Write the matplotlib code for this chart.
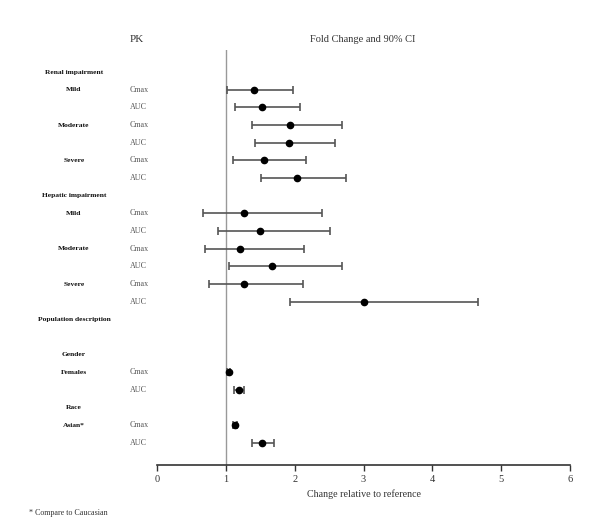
import numpy as np
import matplotlib
matplotlib.use("Agg")
import matplotlib.pyplot as plt
import matplotlib.transforms as mtransforms

plt.rcParams['font.family'] = ['Liberation Serif', 'DejaVu Serif']

# row labels, top to bottom
group_labels = ["Renal impairment", "Mild", "", "Moderate", "", "Severe", "",
                "Hepatic impairment", "Mild", "", "Moderate", "", "Severe", "",
                "Population description", "", "Gender", "Females", "", "Race", "Asian*", ""]
param_labels = ["", "Cmax", "AUC", "Cmax", "AUC", "Cmax", "AUC",
                "", "Cmax", "AUC", "Cmax", "AUC", "Cmax", "AUC",
                "", "", "", "Cmax", "AUC", "", "Cmax", "AUC"]

# fold change and 90% CI for rows with a PK parameter
fold = [1.41, 1.53, 1.93, 1.92, 1.55, 2.03,
        1.27, 1.50, 1.21, 1.67, 1.26, 3.00,
        1.04, 1.19, 1.14, 1.53]
ci_low = [1.01, 1.14, 1.38, 1.42, 1.11, 1.51,
          0.67, 0.89, 0.69, 1.04, 0.75, 1.93,
          1.02, 1.12, 1.11, 1.38]
ci_high = [1.97, 2.08, 2.69, 2.59, 2.17, 2.75,
           2.40, 2.51, 2.13, 2.69, 2.12, 4.67,
           1.06, 1.27, 1.16, 1.70]

xticks = [0, 1, 2, 3, 4, 5, 6]

fig = plt.figure(figsize=(5.91, 5.28), dpi=100)
ax = fig.add_axes([0.2657, 0.1193, 0.6988, 0.7860])

rows = [i for i, p in enumerate(param_labels) if p]
fold = np.array(fold)
err = np.array([fold - np.array(ci_low), np.array(ci_high) - fold])

ax.axvline(1, color='#999999', lw=1.0, zorder=1)
ax.errorbar(fold, rows, xerr=err, fmt='o', color='black', ms=4.5,
            ecolor='#555555', elinewidth=1.2, capsize=3, capthick=1.2, zorder=3)

ax.set_xlim(0, 6)
ax.set_ylim(22.24, -1.245)
ax.set_xticks(xticks)
ax.set_xticklabels([str(t) for t in xticks], fontsize=7.5, color='#333333')
ax.tick_params(axis='x', length=4, width=1, color='#333333', pad=3)
ax.set_yticks([])
for s in ['top', 'right', 'left']:
    ax.spines[s].set_visible(False)
ax.spines['bottom'].set_color('#333333')
ax.spines['bottom'].set_linewidth(1.2)
ax.set_xlabel("Change relative to reference", fontsize=7.2, color='#333333', labelpad=4)

trans = mtransforms.blended_transform_factory(fig.transFigure, ax.transData)
for i, (g, p) in enumerate(zip(group_labels, param_labels)):
    if g:
        ax.text(74 / 591, i, g, transform=trans, ha='center', va='center',
                fontsize=5.4, fontweight='bold', color='#111111')
    if p:
        ax.text(130 / 591, i, p, transform=trans, ha='left', va='center',
                fontsize=5.8, color='#555555')

fig.text(137 / 591, 1 - 39 / 528, "PK", ha='center', va='center', fontsize=8, color='#333333')
fig.text(363 / 591, 1 - 39 / 528, "Fold Change and 90% CI", ha='center', va='center',
         fontsize=7.5, color='#333333')
fig.text(29 / 591, 1 - 513 / 528, "* Compare to Caucasian", ha='left', va='center',
         fontsize=5.8, color='#333333')

fig.savefig("out.png", dpi=100)
